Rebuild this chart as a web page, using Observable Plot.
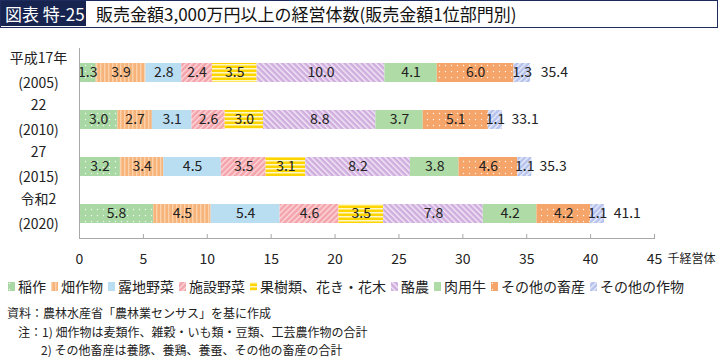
<!DOCTYPE html>
<html><head><meta charset="utf-8">
<script src="https://cdn.jsdelivr.net/npm/d3@7"></script>
<script src="https://cdn.jsdelivr.net/npm/@observablehq/plot@0.6"></script>
<style>
body{margin:0;width:718px;height:357px;overflow:hidden;font-family:"Noto Sans CJK JP",sans-serif;background:#fff;color:#222;position:relative}
#title{position:absolute;left:0;top:0;width:718px;height:28px;box-sizing:border-box;border:1.5px solid #1d2c5c;}
#title .tag{position:absolute;left:0;top:0;height:25px;width:85px;background:#17244f;color:#fff;font-size:17px;line-height:25px;padding-left:4px;box-sizing:border-box;white-space:nowrap}
#title .txt{position:absolute;left:95px;top:0;height:25px;font-size:17px;line-height:25px;white-space:nowrap;color:#111}
#chart{position:absolute;left:0;top:28px}
#legend{position:absolute;left:8px;top:276px;display:flex;align-items:center;font-size:14px;white-space:nowrap;color:#222}
#legend .item{display:flex;align-items:center;margin-right:5px}
#legend svg{margin-right:3px}
#notes{position:absolute;left:0;top:304px;font-size:12px;line-height:18.5px;color:#222;white-space:nowrap}
</style>
</head><body>
<svg width="0" height="0" style="position:absolute">
<defs>
<pattern id="p0" patternUnits="userSpaceOnUse" width="6" height="6"><rect width="6" height="6" fill="#a9d8a4"/><circle cx="1.5" cy="1.5" r="0.7" fill="#fff" opacity="0.85"/></pattern>
<pattern id="p1" patternUnits="userSpaceOnUse" width="4" height="4"><rect width="4" height="4" fill="#f7b47a"/><rect x="0" width="1.4" height="4" fill="#fbd2ac"/></pattern>
<pattern id="p2" patternUnits="userSpaceOnUse" width="4" height="4"><rect width="4" height="4" fill="#b9def2"/></pattern>
<pattern id="p3" patternUnits="userSpaceOnUse" width="4" height="4" patternTransform="rotate(45)"><rect width="4" height="4" fill="#f4a3ab"/><rect width="1.4" height="4" fill="#fbd9dc"/></pattern>
<pattern id="p4" patternUnits="userSpaceOnUse" width="4" height="4"><rect width="4" height="4" fill="#ffd500"/><rect y="0" width="4" height="1.5" fill="#fff7c8"/></pattern>
<pattern id="p5" patternUnits="userSpaceOnUse" width="4" height="4" patternTransform="rotate(-45)"><rect width="4" height="4" fill="#cfaede"/><rect width="1.4" height="4" fill="#f3e8f7"/></pattern>
<pattern id="p6" patternUnits="userSpaceOnUse" width="4" height="4"><rect width="4" height="4" fill="#afdba6"/></pattern>
<pattern id="p7" patternUnits="userSpaceOnUse" width="6" height="6"><rect width="6" height="6" fill="#f5a56a"/><circle cx="1.5" cy="1.5" r="0.7" fill="#fff" opacity="0.85"/></pattern>
<pattern id="p8" patternUnits="userSpaceOnUse" width="4" height="4" patternTransform="rotate(45)"><rect width="4" height="4" fill="#b6c2ec"/><rect width="1.4" height="4" fill="#e9edfb"/></pattern>
</defs>
</svg>
<div id="title"><div class="tag">図表 特-25</div><div class="txt">販売金額3,000万円以上の経営体数(販売金額1位部門別)</div></div>
<div id="chart"></div>
<div id="legend"></div>
<div id="notes">
<div style="padding-left:7px">資料：農林水産省「農林業センサス」を基に作成</div>
<div style="padding-left:18px">注：1) 畑作物は麦類作、雑穀・いも類・豆類、工芸農作物の合計</div>
<div style="padding-left:41px">2) その他畜産は養豚、養鶏、養蚕、その他の畜産の合計</div>
</div>
<script>
const years = ["2005", "2010", "2015", "2020"];
const yearLabels = ["平成17年\n(2005)", "22\n(2010)", "27\n(2015)", "令和2\n(2020)"];
const categories = ["稲作", "畑作物", "露地野菜", "施設野菜", "果樹類、花き・花木", "酪農", "肉用牛", "その他の畜産", "その他の作物"];
const rice = [1.3, 3.0, 3.2, 5.8];
const fieldCrops = [3.9, 2.7, 3.4, 4.5];
const openVeg = [2.8, 3.1, 4.5, 5.4];
const greenhouseVeg = [2.4, 2.6, 3.5, 4.6];
const fruitFlowers = [3.5, 3.0, 3.1, 3.5];
const dairy = [10.0, 8.8, 8.2, 7.8];
const beef = [4.1, 3.7, 3.8, 4.2];
const otherLivestock = [6.0, 5.1, 4.6, 4.2];
const otherCrops = [1.3, 1.1, 1.1, 1.1];
const totals = [35.4, 33.1, 35.3, 41.1];
const xTicks = [0, 5, 10, 15, 20, 25, 30, 35, 40, 45];
const unitLabel = "千経営体";

const series = [rice, fieldCrops, openVeg, greenhouseVeg, fruitFlowers, dairy, beef, otherLivestock, otherCrops];
const patternIds = categories.map((c, i) => `url(#p${i})`);
const data = [];
years.forEach((y, yi) => {
  categories.forEach((c, ci) => data.push({year: y, cat: c, value: series[ci][yi]}));
});
const totalData = years.map((y, i) => ({year: y, total: totals[i]}));

const plot = Plot.plot({
  width: 718,
  height: 245,
  marginLeft: 79,
  marginRight: 64,
  marginTop: 20,
  marginBottom: 35,
  style: {fontFamily: '"Noto Sans CJK JP", sans-serif', color: "#222", background: "transparent"},
  x: {domain: [0, 45]},
  y: {domain: years, paddingInner: 0.6, paddingOuter: 0.31},
  color: {type: "ordinal", domain: categories, range: patternIds},
  marks: [
    Plot.barX(data, Plot.stackX({x: "value", y: "year", fill: "cat", z: "cat", order: categories})),
    Plot.text(data, Plot.stackX({x: "value", y: "year", z: "cat", order: categories, text: d => d.value.toFixed(1), fontSize: 14, fill: "#222"})),
    Plot.text(totalData, {x: "total", y: "year", text: d => d.total.toFixed(1), textAnchor: "start", dx: 9, fontSize: 14, fill: "#222"}),
    Plot.ruleX([0], {stroke: "#a8a8a8"}),
    Plot.frame({anchor: "bottom", stroke: "#a8a8a8"}),
    Plot.axisX({ticks: xTicks, tickSize: -4, stroke: "#a8a8a8", tickFormat: () => "", label: null}),
    Plot.axisX({ticks: xTicks, tickSize: 0, tickPadding: 16, fontSize: 14, fill: "#222", label: null}),
    Plot.axisY({tickSize: 0, tickPadding: 0, dx: -41, dy: -5.5, textAnchor: "middle", fontSize: 14, lineHeight: 1.78, fill: "#222", label: null, tickFormat: d => yearLabels[years.indexOf(d)]}),
    Plot.text([unitLabel], {frameAnchor: "bottom-right", text: d => d, textAnchor: "start", dx: 13, dy: 24, fontSize: 12, fill: "#222"})
  ]
});
document.getElementById("chart").appendChild(plot);

const legend = document.getElementById("legend");
categories.forEach((c, i) => {
  const item = document.createElement("div");
  item.className = "item";
  item.innerHTML = `<svg width="7" height="9"><rect width="7" height="9" fill="${patternIds[i]}"/></svg><span>${c}</span>`;
  legend.appendChild(item);
});
</script>
</body></html>
